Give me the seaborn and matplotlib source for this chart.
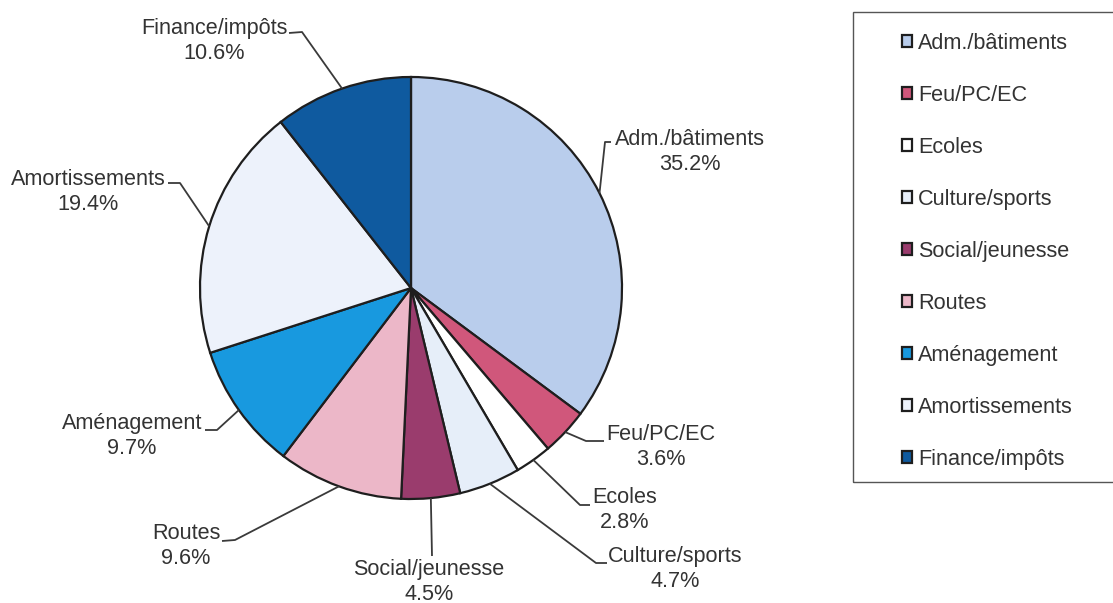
import numpy as np
import matplotlib
matplotlib.use("Agg")
import matplotlib.pyplot as plt
from matplotlib.patches import Rectangle
import seaborn as sns

# Data
categories = ['Adm./bâtiments', 'Feu/PC/EC', 'Ecoles', 'Culture/sports', 'Social/jeunesse',
              'Routes', 'Aménagement', 'Amortissements', 'Finance/impôts']
shares = [35.2, 3.6, 2.8, 4.7, 4.5, 9.6, 9.7, 19.4, 10.6]
colors = ['#b9cdec', '#d0577b', '#ffffff', '#e6eef9', '#9a3c6d',
          '#ecb7c8', '#1899df', '#edf2fb', '#0f5a9f']

sns.set_theme(style="white")
plt.rcParams['font.family'] = ['Liberation Sans', 'DejaVu Sans']

W, H = 1113, 603
fig = plt.figure(figsize=(W / 100, H / 100), dpi=100)
ax = fig.add_axes([0, 0, 1, 1])

cx, cy, r = 411, H - 288, 211
wedges, _ = ax.pie(shares, colors=colors, startangle=90, counterclock=False,
                   center=(cx, cy), radius=r, frame=True,
                   wedgeprops=dict(edgecolor='#1e1e1e', linewidth=1.6))
ax.set_xlim(0, W)
ax.set_ylim(0, H)
ax.axis('off')

# label layout in pixel coords (y down): text block centre, elbow, line end
layout = {
    'Adm./bâtiments': ((690, 152), (605, 142), (611, 142)),
    'Feu/PC/EC': ((661, 447), (586, 441), (604, 441)),
    'Ecoles': ((625, 510), (580, 505), (590, 505)),
    'Culture/sports': ((675, 569), (596, 563), (607, 563)),
    'Social/jeunesse': ((429, 582), (432, 556), (432, 556)),
    'Routes': ((186, 546), (235, 540), (222, 541)),
    'Aménagement': ((132, 436), (217, 430), (205, 430)),
    'Amortissements': ((88, 192), (180, 183), (168, 183)),
    'Finance/impôts': ((214, 41), (302, 32), (289, 33)),
}

txt = '#333333'
fs = 15.6
for w, name, val in zip(wedges, categories, shares):
    mid = np.deg2rad((w.theta1 + w.theta2) / 2)
    ex, ey = cx + r * np.cos(mid), cy + r * np.sin(mid)
    (tx, ty), (bx, by), (lx, ly) = layout[name]
    ax.plot([ex, bx, lx], [ey, H - by, H - ly], color='#3a3a3a', lw=1.3,
            solid_capstyle='butt')
    ax.text(tx, H - ty, f"{name}\n{val:.1f}%", ha='center', va='center',
            fontsize=fs, color=txt, linespacing=1.22)

# legend frame (extends past the right edge like the scanned original)
fig.patches.append(Rectangle((853 / W, 1 - 482 / H), 300 / W, 470 / H,
                             transform=fig.transFigure, fill=False,
                             edgecolor='#555555', linewidth=1.0))
leg = fig.legend(wedges, categories, loc='upper left',
                 bbox_to_anchor=(902 / W, 1 - 33 / H), borderaxespad=0,
                 frameon=False, fontsize=fs,
                 handlelength=0.48, handleheight=0.48, handletextpad=0.25,
                 labelspacing=1.43, borderpad=0, labelcolor=txt)

fig.savefig('out.png', dpi=100)
